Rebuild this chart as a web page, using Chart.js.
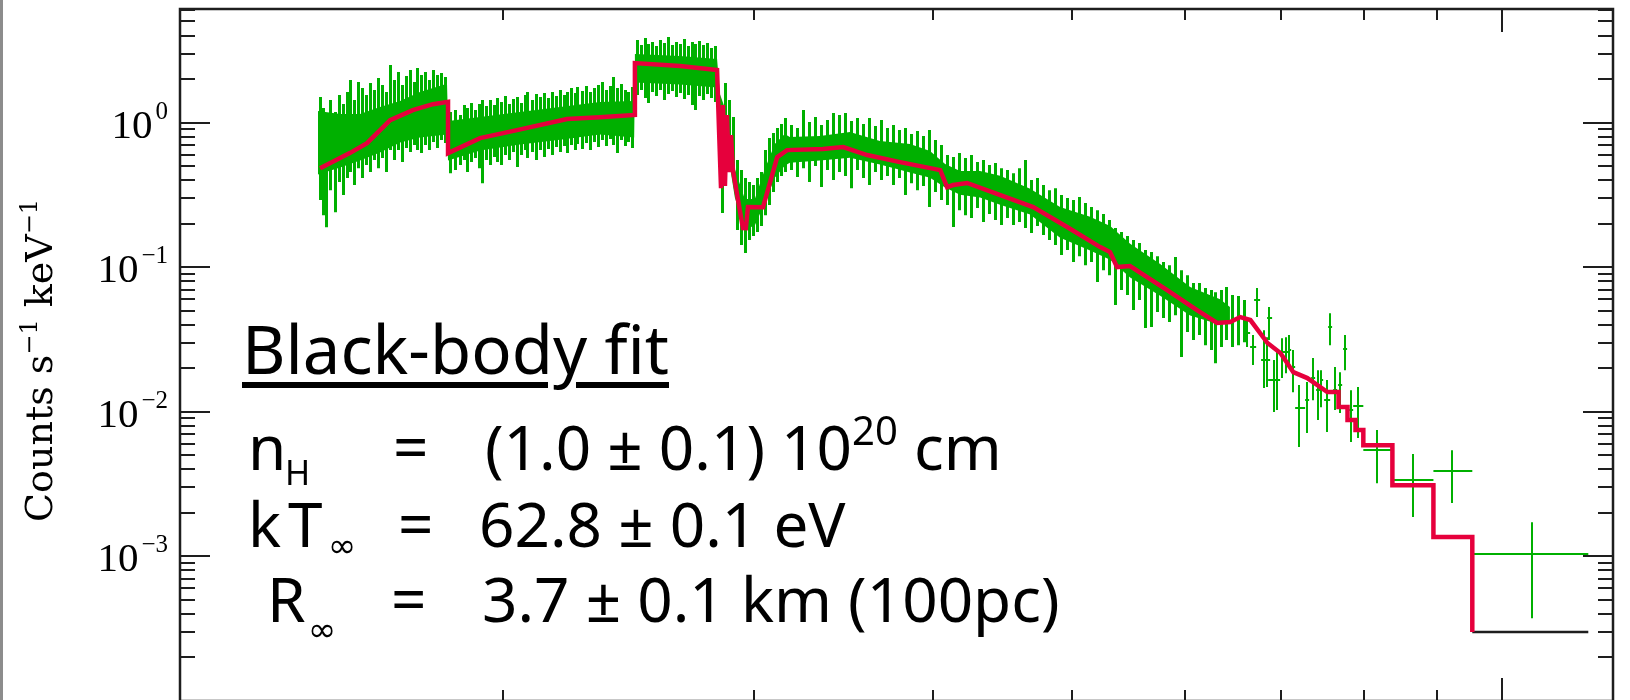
<!DOCTYPE html>
<html>
<head>
<meta charset="utf-8">
<script src="https://cdn.jsdelivr.net/npm/chart.js@4.4.1/dist/chart.umd.min.js"></script>
<style>
  html, body { margin: 0; padding: 0; background: #fff; width: 1630px; height: 700px; overflow: hidden; }
  #wrap { position: relative; width: 1630px; height: 700px; overflow: hidden; }
  #chart { position: absolute; left: 0; top: 0; }
  .edge { position: absolute; left: 0; top: 0; width: 3px; height: 700px; background: #8c8c8c; }
  .ann { position: absolute; font-family: "Noto Sans", sans-serif; color: #000; white-space: nowrap; line-height: 1; }
  .ann .sup { font-size: 40px; position: relative; top: -25px; }
  .inf { position: absolute; font-family: "DejaVu Sans", sans-serif; font-size: 34px; line-height: 1; }
  #ytitle { position: absolute; left: 20px; top: 522px; font-family: "DejaVu Serif", serif; font-size: 38px;
            line-height: 1; white-space: nowrap; transform-origin: 0 0; transform: rotate(-90deg); }
  #ytitle .tsup { font-size: 24px; position: relative; top: -15px; }
</style>
</head>
<body>
<div id="wrap">
  <canvas id="chart" width="1630" height="720"></canvas>
  <div class="edge"></div>

  <div id="ytitle">Counts s<span class="tsup">−1</span> keV<span class="tsup">−1</span></div>

  <div class="ann" style="left:242px; top:315px; font-size:67px; text-decoration:underline; text-decoration-thickness:6px; text-underline-offset:8px;">Black-body fit</div>

  <div class="ann" style="left:248px; top:415px; font-size:62px;">n</div>
  <div class="ann" style="left:285px; top:455px; font-size:34px;">H</div>
  <div class="ann" style="left:393px; top:415px; font-size:62px;">=</div>
  <div class="ann" style="left:485px; top:415px; font-size:62px;">(1.0 ± 0.1) 10<span class="sup">20</span> cm</div>

  <div class="ann" style="left:248px; top:492px; font-size:62px; letter-spacing:7px;">kT</div>
  <div class="inf" style="left:328px; top:528px;">∞</div>
  <div class="ann" style="left:398px; top:492px; font-size:62px;">=</div>
  <div class="ann" style="left:479px; top:492px; font-size:62px;">62.8 ± 0.1 eV</div>

  <div class="ann" style="left:267px; top:567px; font-size:62px;">R</div>
  <div class="inf" style="left:308px; top:612px;">∞</div>
  <div class="ann" style="left:391px; top:567px; font-size:62px;">=</div>
  <div class="ann" style="left:482px; top:567px; font-size:62px;">3.7 ± 0.1 km (100pc)</div>
</div>

<script>
/* ---------- axes ---------- */
const X_MIN = 0.119, X_MAX = 1.195;      // keV
const Y_MIN = 1e-4,  Y_MAX = 6.1;        // counts s^-1 keV^-1
const xMinorTicks = [0.2, 0.3, 0.4, 0.5, 0.6, 0.7, 0.8, 0.9];
const xMajorTicks = [1];
const yMajorTicks = [1, 0.1, 0.01, 0.001, 0.0001];
const yTickVals   = [1, 0.1, 0.01, 0.001];
const yTickExps   = ["0", "−1", "−2", "−3"];

/* ---------- data: solid core of the binned spectrum ---------- */
const bandE  = [0.1486, 0.1540, 0.1590, 0.1642, 0.1696, 0.1751, 0.1829,
                0.1832, 0.1929, 0.2057, 0.2194, 0.2339, 0.2472,
                0.2475, 0.2661, 0.2825,
                0.2838, 0.2870, 0.2907, 0.2954, 0.3002, 0.3051, 0.3100, 0.3150,
                0.3176, 0.3334, 0.3499, 0.3672, 0.3854, 0.3980, 0.4078, 0.4177, 0.4314, 0.4455,
                0.4676, 0.4907, 0.5150, 0.5319, 0.5493, 0.5765, 0.6050, 0.6349, 0.6450];
const bandHi = [1.203, 1.147, 1.147, 1.282, 1.411, 1.628, 1.852,
                1.026, 1.093, 1.184, 1.282, 1.388, 1.411,
                2.98, 2.886, 2.754,
                1.579, 1.147, 0.478, 0.296, 0.296, 0.478, 0.712, 0.834,
                0.795, 0.808, 0.861, 0.746, 0.712, 0.636, 0.517, 0.462, 0.462, 0.428,
                0.348, 0.261, 0.223, 0.193, 0.145, 0.105, 0.0729, 0.0600, 0.0530];
const bandLo = [0.437, 0.488, 0.546, 0.620, 0.727, 0.787, 0.826,
                0.546, 0.640, 0.704, 0.762, 0.826, 0.787,
                1.890, 1.830, 1.747,
                0.853, 0.671, 0.303, 0.182, 0.194, 0.280, 0.416, 0.503,
                0.528, 0.546, 0.572, 0.512, 0.451, 0.416, 0.355, 0.317, 0.303, 0.270,
                0.231, 0.160, 0.1302, 0.1127, 0.0847, 0.0635, 0.0463, 0.0400, 0.0430];

/* ---------- data: individual error bars of the dense bins ---------- */
const barE = [
  0.1491, 0.1498, 0.1505, 0.1515, 0.1527, 0.1537, 0.1547, 0.1557, 0.1565, 0.1575, 0.1585, 0.1595,
  0.1605, 0.1616, 0.1626, 0.1637, 0.1647, 0.1658, 0.1669, 0.1680, 0.1691, 0.1701, 0.1712, 0.1723,
  0.1734, 0.1742, 0.1754, 0.1765, 0.1776, 0.1789, 0.1800, 0.1812, 0.1824,
  0.1838, 0.1853, 0.1868, 0.1880, 0.1889, 0.1901, 0.1913, 0.1926, 0.1935, 0.1948, 0.1960, 0.1973,
  0.1982, 0.1995, 0.2008, 0.2021, 0.2034, 0.2047, 0.2060, 0.2074, 0.2080, 0.2098, 0.2111, 0.2124,
  0.2138, 0.2151, 0.2166, 0.2180, 0.2194, 0.2208, 0.2219, 0.2234, 0.2248, 0.2255, 0.2273, 0.2288,
  0.2302, 0.2317, 0.2332, 0.2347, 0.2362, 0.2377, 0.2389, 0.2404, 0.2420, 0.2435, 0.2447, 0.2463,
  0.2483, 0.2499, 0.2515, 0.2527, 0.2543, 0.2560, 0.2577, 0.2594, 0.2610, 0.2626, 0.2643, 0.2661,
  0.2678, 0.2695, 0.2713, 0.2726, 0.2743, 0.2761, 0.2779, 0.2796, 0.2815,
  0.2847, 0.2861, 0.2879, 0.2898, 0.2917, 0.2935, 0.2954, 0.2972, 0.2992, 0.3012, 0.3031, 0.3050,
  0.3070, 0.3090, 0.3110, 0.3130, 0.3150,
  0.3181, 0.3212, 0.3245, 0.3276, 0.3307, 0.3339, 0.3372, 0.3404, 0.3437, 0.3471, 0.3505, 0.3539,
  0.3573, 0.3608, 0.3643, 0.3678, 0.3713, 0.3750, 0.3786, 0.3824, 0.3860, 0.3898, 0.3936, 0.3974,
  0.4012, 0.4052, 0.4091, 0.4131, 0.4171, 0.4211, 0.4252, 0.4293, 0.4335, 0.4377, 0.4419, 0.4462,
  0.4505, 0.4550, 0.4594, 0.4638, 0.4684, 0.4729, 0.4775, 0.4821, 0.4868, 0.4915, 0.4962, 0.5011,
  0.5059, 0.5109, 0.5158, 0.5208, 0.5259, 0.5310, 0.5362, 0.5414, 0.5466, 0.5520, 0.5573, 0.5627,
  0.5682, 0.5737, 0.5793, 0.5849, 0.5905, 0.5963, 0.6020, 0.6079, 0.6138, 0.6198, 0.6258, 0.6298,
  0.6359, 0.6410, 0.6473, 0.6535, 0.6599];
const barHi = [
  1.502, 1.260, 1.074, 1.431, 1.182, 1.551, 1.343, 1.626, 1.968, 1.431, 1.906, 1.733,
  1.551, 1.876, 1.679, 2.030, 1.817, 1.626, 2.498, 1.968, 2.234, 1.817, 2.096, 2.306,
  1.906, 2.381, 2.130, 2.234, 1.968, 2.306, 2.130, 2.199, 2.063,
  1.182, 1.220, 1.127, 1.322, 1.260, 1.364, 1.220, 1.343, 1.431, 1.301, 1.431, 1.322,
  1.478, 1.386, 1.526, 1.343, 1.455, 1.502, 1.364, 1.551, 1.626, 1.431, 1.575, 1.502,
  1.601, 1.478, 1.626, 1.526, 1.679, 1.551, 1.626, 1.733, 1.601, 1.761, 1.653, 1.789,
  1.626, 1.733, 1.817, 1.906, 1.679, 1.789, 2.063, 1.733, 1.847, 1.679, 1.626, 1.761,
  3.721, 3.436, 3.841, 3.491, 3.604, 3.382, 3.721, 3.548, 3.903, 3.436, 3.604, 3.491,
  3.781, 3.382, 3.604, 3.491, 3.662, 3.436, 3.548, 3.276, 3.382,
  0.508, 1.876, 1.431, 1.091, 0.550, 0.469, 0.413, 0.388, 0.370, 0.413, 0.455, 0.645,
  0.781, 0.846, 0.9165, 0.977, 1.074,
  0.961, 0.9165, 1.220, 1.008, 1.091, 0.961, 1.041, 1.163, 1.127, 1.163, 1.025, 1.074,
  0.977, 1.074, 0.946, 1.041, 0.9165, 0.961, 0.887, 0.9165, 0.833, 0.873, 0.8066, 0.887,
  0.757, 0.699, 0.596, 0.577, 0.615, 0.568, 0.596, 0.533, 0.550, 0.508, 0.525, 0.484,
  0.469, 0.447, 0.484, 0.550, 0.400, 0.413, 0.370, 0.341, 0.352, 0.315, 0.3004, 0.291,
  0.3052, 0.2774, 0.2603, 0.248, 0.2328, 0.2116, 0.1864, 0.1748, 0.1640, 0.1539, 0.1467, 0.1312,
  0.1271, 0.1192, 0.1084, 0.1033, 0.1174, 0.0954, 0.0881, 0.0776, 0.0776, 0.0717, 0.0694, 0.0672,
  0.0694, 0.0728, 0.0641, 0.0631, 0.0592];
const barLo = [
  0.291, 0.229, 0.189, 0.341, 0.240, 0.388, 0.315, 0.413, 0.455, 0.370, 0.484, 0.413,
  0.508, 0.455, 0.550, 0.484, 0.568, 0.455, 0.645, 0.550, 0.645, 0.533, 0.666, 0.625,
  0.699, 0.645, 0.615, 0.699, 0.645, 0.733, 0.666, 0.757, 0.722,
  0.447, 0.469, 0.508, 0.550, 0.455, 0.533, 0.568, 0.484, 0.381, 0.550, 0.508, 0.577,
  0.533, 0.508, 0.596, 0.550, 0.625, 0.492, 0.596, 0.645, 0.568, 0.625, 0.550, 0.645,
  0.577, 0.656, 0.596, 0.677, 0.625, 0.688, 0.615, 0.699, 0.645, 0.710, 0.656, 0.722,
  0.645, 0.733, 0.677, 0.757, 0.688, 0.769, 0.699, 0.615, 0.757, 0.688, 0.733, 0.666,
  1.551, 1.679, 1.478, 1.364, 1.626, 1.526, 1.679, 1.431, 1.575, 1.653, 1.502, 1.601,
  1.455, 1.551, 1.322, 1.220, 1.526, 1.431, 1.575, 1.478, 1.386,
  0.2365, 0.757, 0.645, 0.469, 0.1804, 0.1421, 0.1251, 0.1539, 0.1640, 0.1748, 0.1923, 0.229,
  0.2687, 0.3305, 0.388, 0.4265, 0.455,
  0.469, 0.420, 0.484, 0.388, 0.500, 0.358, 0.469, 0.400, 0.455, 0.4265, 0.352, 0.469,
  0.413, 0.370, 0.455, 0.400, 0.4265, 0.370, 0.413, 0.315, 0.381, 0.341, 0.3637, 0.2603,
  0.3305, 0.291, 0.2687, 0.1893, 0.248, 0.229, 0.2184, 0.2562, 0.205, 0.2328, 0.2116, 0.1954,
  0.2184, 0.1954, 0.205, 0.1863, 0.1720, 0.1923, 0.1666, 0.1539, 0.1421, 0.1212, 0.1312, 0.1084,
  0.1192, 0.1033, 0.1084, 0.0789, 0.0954, 0.0881, 0.0547, 0.0694, 0.0641, 0.0505, 0.0592, 0.0379,
  0.0386, 0.0489, 0.0445, 0.0418, 0.0466, 0.0239, 0.0356, 0.0313, 0.0339, 0.0289, 0.0267, 0.0217,
  0.0280, 0.0313, 0.0280, 0.0289, 0.0303];

/* ---------- data: sparse high-energy bins (with bin widths) ---------- */
const ptE   = [0.6631, 0.6695, 0.6738, 0.6815, 0.6848, 0.6869, 0.6925, 0.6959, 0.7016, 0.7061, 0.7094, 0.7141,
               0.7210, 0.7304, 0.7375, 0.7434, 0.7470, 0.7542, 0.7579, 0.7640, 0.7702, 0.7764, 0.7840, 0.7928,
               0.8178, 0.8666, 0.9226, 1.0495];
const ptY   = [0.0350, 0.0280, 0.0592, 0.0228, 0.0228, 0.0445, 0.0166, 0.0166, 0.0259, 0.0259, 0.0267, 0.0204,
               0.01057, 0.0120, 0.0171, 0.0141, 0.0166, 0.0120, 0.0386, 0.0141, 0.01533, 0.0271, 0.0103, 0.01091,
               0.00543, 0.00337, 0.00389, 0.00104];
const ptHi  = [0.0431, 0.0339, 0.0717, 0.0367, 0.0328, 0.0530, 0.0228, 0.0259, 0.0323, 0.0328, 0.0339, 0.0267,
               0.01533, 0.01608, 0.02351, 0.0194, 0.0194, 0.0166, 0.0481, 0.0204, 0.0188, 0.0339, 0.0141, 0.01485,
               0.00747, 0.00510, 0.00543, 0.00172];
const ptLo  = [0.0280, 0.0211, 0.0452, 0.0146, 0.01485, 0.0313, 0.00998, 0.0103, 0.0171, 0.0185, 0.0204, 0.01366,
               0.00570, 0.00712, 0.0120, 0.00876, 0.01074, 0.00724, 0.0289, 0.0103, 0.00982, 0.0194, 0.00617, 0.00658,
               0.00321, 0.00187, 0.00234, 0.000374];
const ptELo = [0.6599, 0.6663, 0.6706, 0.6782, 0.6826, 0.6848, 0.6859, 0.6936, 0.6993, 0.7038, 0.7084, 0.7118,
               0.7164, 0.7280, 0.7351, 0.7410, 0.7458, 0.7506, 0.7555, 0.7616, 0.7677, 0.7739, 0.7815, 0.7865,
               0.7995, 0.8378, 0.8950, 0.9528];
const ptEHi = [0.6663, 0.6728, 0.6771, 0.6848, 0.6881, 0.6903, 0.6993, 0.6981, 0.7038, 0.7084, 0.7118, 0.7164,
               0.7280, 0.7327, 0.7398, 0.7458, 0.7494, 0.7579, 0.7603, 0.7665, 0.7727, 0.7789, 0.7865, 0.7995,
               0.8378, 0.8950, 0.9528, 1.1484];

/* ---------- black-body model (folded, binned) ---------- */
const modelE = [0.1491, 0.1564, 0.1608, 0.1669, 0.1731, 0.1788, 0.1832, 0.1832, 0.1929, 0.2047, 0.2219, 0.2339,
                0.2475, 0.2475, 0.2661, 0.2825, 0.2834, 0.2843, 0.2852, 0.2861, 0.2870, 0.2880, 0.2889, 0.2898,
                0.2922, 0.2945, 0.2959, 0.2969, 0.3042, 0.3112, 0.3162, 0.3350, 0.3461, 0.3597, 0.3793, 0.4046,
                0.4091, 0.4131, 0.4225, 0.4457, 0.4699, 0.4963, 0.5234, 0.5318, 0.5378, 0.5492, 0.5830, 0.6117,
                0.6318, 0.6453, 0.6558, 0.6666, 0.6852, 0.6996, 0.7143, 0.7306, 0.7545, 0.7682, 0.7682, 0.7794,
                0.7794, 0.7895, 0.7895, 0.7995, 0.7995, 0.8378, 0.8378, 0.8950, 0.8950, 0.9528, 0.9528];
const modelY = [0.484, 0.615, 0.721, 1.04, 1.22, 1.34, 1.39, 0.615, 0.781, 0.887, 1.057, 1.09,
                1.13, 2.58, 2.46, 2.31, 0.887, 0.352, 1.32, 0.364, 1.127, 0.455, 0.820, 0.469,
                0.291, 0.1864, 0.186, 0.2604, 0.260, 0.577, 0.645, 0.656, 0.677, 0.596, 0.533, 0.469,
                0.358, 0.370, 0.382, 0.315, 0.260, 0.1894, 0.1377, 0.1272, 0.1002, 0.1018, 0.0694, 0.0505,
                0.0411, 0.0417, 0.0452, 0.0431, 0.0299, 0.0255, 0.0188, 0.0171, 0.01368, 0.01368, 0.01078, 0.01078,
                0.00876, 0.00876, 0.00747, 0.00747, 0.00588, 0.00588, 0.00311, 0.00311, 0.00136, 0.00136, 0.000300];
const tailE = [0.9528, 1.1484];
const tailY = [0.000300, 0.000300];

const GREEN = "#00b000";
const RED   = "#e6003c";
const INK   = "#1e1e1e";

function pts(xs, ys) {
  const n = Math.min(xs.length, ys.length);
  const out = [];
  for (let i = 0; i < n; i++) out.push({ x: xs[i], y: ys[i] });
  return out;
}

/* error bars under the model line, frame + ticks + labels on top */
const spectrumPlugin = {
  id: "spectrum",
  beforeDatasetsDraw(chart) {
    const { ctx, chartArea: a, scales: { x, y } } = chart;
    ctx.save();
    ctx.beginPath();
    ctx.rect(a.left, a.top, a.right - a.left, a.bottom - a.top);
    ctx.clip();
    ctx.strokeStyle = GREEN;

    // dense bins: vertical error bars only
    ctx.lineWidth = 3;
    ctx.beginPath();
    const n = Math.min(barE.length, barHi.length, barLo.length);
    for (let i = 0; i < n; i++) {
      const px = Math.round(x.getPixelForValue(barE[i])) + 0.5;
      ctx.moveTo(px, y.getPixelForValue(barHi[i]));
      ctx.lineTo(px, y.getPixelForValue(barLo[i]));
    }
    ctx.stroke();

    // sparse bins: crosses with bin width
    ctx.lineWidth = 2;
    ctx.beginPath();
    const m = Math.min(ptE.length, ptY.length, ptHi.length, ptLo.length, ptELo.length, ptEHi.length);
    for (let i = 0; i < m; i++) {
      const px = Math.round(x.getPixelForValue(ptE[i]));
      const py = Math.round(y.getPixelForValue(ptY[i]));
      ctx.moveTo(px, y.getPixelForValue(ptHi[i]));
      ctx.lineTo(px, y.getPixelForValue(ptLo[i]));
      ctx.moveTo(x.getPixelForValue(ptELo[i]), py);
      ctx.lineTo(x.getPixelForValue(ptEHi[i]), py);
    }
    ctx.stroke();
    ctx.restore();
  },
  afterDraw(chart) {
    const { ctx, chartArea: a, scales: { x, y } } = chart;
    ctx.save();
    ctx.strokeStyle = INK;
    ctx.lineWidth = 2;
    ctx.beginPath();
    // x ticks, top and bottom, pointing inward
    xMinorTicks.concat(xMajorTicks).forEach(v => {
      const len = xMajorTicks.includes(v) ? 23 : 11;
      const px = Math.round(x.getPixelForValue(v));
      ctx.moveTo(px, a.top); ctx.lineTo(px, a.top + len);
      ctx.moveTo(px, a.bottom); ctx.lineTo(px, a.bottom - len);
    });
    // y ticks, left and right
    const yTicks = [];
    yMajorTicks.forEach(d => {
      yTicks.push({ v: d, len: 30 });
      for (let k = 2; k <= 9; k++) {
        if (k * d < Y_MAX) yTicks.push({ v: k * d, len: 15 });
      }
    });
    yTicks.forEach(t => {
      const py = Math.round(y.getPixelForValue(t.v));
      ctx.moveTo(a.left, py); ctx.lineTo(a.left + t.len, py);
      ctx.moveTo(a.right, py); ctx.lineTo(a.right - t.len, py);
    });
    ctx.stroke();
    ctx.lineWidth = 2.5;
    ctx.strokeRect(a.left, a.top, a.right - a.left, a.bottom - a.top);

    // y tick labels 10^n
    ctx.fillStyle = "#000";
    ctx.textAlign = "right";
    ctx.textBaseline = "alphabetic";
    for (let i = 0; i < yTickVals.length; i++) {
      const py = y.getPixelForValue(yTickVals[i]);
      ctx.font = '25px "Liberation Serif", serif';
      const ew = ctx.measureText(yTickExps[i]).width;
      ctx.fillText(yTickExps[i], 168, py - 4);
      ctx.font = '41px "Liberation Serif", serif';
      ctx.fillText("10", 168 - ew - 3, py + 15);
    }
    ctx.restore();
  }
};

const chart = new Chart(document.getElementById("chart").getContext("2d"), {
  type: "scatter",
  data: {
    datasets: [
      { label: "Black-body model", data: pts(modelE, modelY), showLine: true, borderColor: RED,
        borderWidth: 4.5, pointRadius: 0, fill: false, order: 0 },
      { label: "Model (last bin)", data: pts(tailE, tailY), showLine: true, borderColor: INK,
        borderWidth: 2.5, pointRadius: 0, fill: false, order: 1 },
      { label: "Data lower", data: pts(bandE, bandLo), showLine: true, borderColor: GREEN,
        borderWidth: 0, pointRadius: 0, fill: false, order: 3 },
      { label: "Data upper", data: pts(bandE, bandHi), showLine: true, borderColor: GREEN,
        borderWidth: 0, pointRadius: 0, fill: "-1", backgroundColor: GREEN, order: 2 }
    ]
  },
  options: {
    responsive: false,
    animation: false,
    devicePixelRatio: 1,
    layout: { padding: { left: 180, top: 9, right: 17, bottom: 19 } },
    plugins: { legend: { display: false }, tooltip: { enabled: false } },
    scales: {
      x: { type: "logarithmic", min: X_MIN, max: X_MAX, display: false },
      y: { type: "logarithmic", min: Y_MIN, max: Y_MAX, display: false }
    }
  },
  plugins: [spectrumPlugin]
});
</script>
</body>
</html>
